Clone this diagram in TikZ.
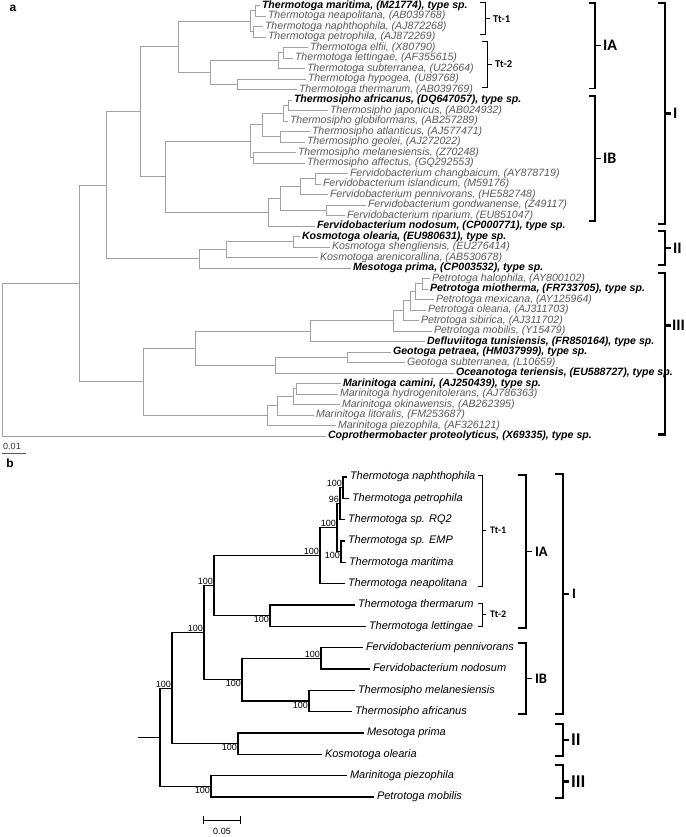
\documentclass[tikz,border=0pt]{standalone}
\usepackage{fontspec}
\setmainfont{Liberation Sans}
\newfontfamily\cladefont{Carlito}
\usetikzlibrary{positioning,calc}
\definecolor{treegray}{HTML}{A0A0A0}
\definecolor{labgray}{HTML}{5A5A5A}
\newcommand{\rowfont}{\fontsize{10.6}{10.6}\selectfont}

\begin{document}
\begin{tikzpicture}[x=1pt,y=-1pt,outer sep=0pt]
\tikzstyle{lfa}=[anchor=west, inner xsep=2pt, inner ysep=0pt,
                 text height=7.6pt, text depth=2.2pt,
                 font=\rowfont\itshape, text=labgray]
\tikzstyle{lfab}=[lfa, font=\rowfont\bfseries\itshape, text=black]
\tikzstyle{lfb}=[anchor=west, inner xsep=3pt, inner ysep=0pt,
                 text height=7.9pt, text depth=2.3pt,
                 font=\fontsize{11}{11}\selectfont\itshape]
\tikzstyle{bra}=[draw=treegray, line width=0.8pt]
\tikzstyle{brb}=[draw=black, line width=1.2pt]
\tikzstyle{bsa}=[anchor=south east, inner sep=1pt, font=\fontsize{9}{9}\selectfont]
\tikzstyle{bsb}=[anchor=north east, inner sep=1pt, font=\fontsize{9}{9}\selectfont]
\tikzstyle{brk1}=[draw=black, line width=1pt]
\tikzstyle{brk2}=[draw=black, line width=1.5pt]
\tikzstyle{brk3}=[draw=black, line width=2.4pt]
\tikzstyle{cla}=[inner sep=0pt, font=\cladefont\bfseries\fontsize{10.5}{10.5}\selectfont]
\tikzstyle{clb}=[inner sep=0pt, font=\cladefont\bfseries\fontsize{16}{16}\selectfont]
\tikzstyle{clc}=[inner sep=0pt, font=\cladefont\bfseries\fontsize{10}{10}\selectfont]
\tikzstyle{cld}=[inner sep=0pt, font=\cladefont\bfseries\fontsize{14.5}{14.5}\selectfont]
\tikzstyle{cle}=[inner sep=0pt, font=\cladefont\bfseries\fontsize{18}{18}\selectfont]

\fill[white] (0,0) rectangle (685,837);
\useasboundingbox (0,0) rectangle (685,837);

\node[font=\bfseries\fontsize{12}{12}\selectfont] (pla) at (13,8) {a};

\begin{scope}[y=-0.992pt]
%% panel a: leaves
\node[lfab] (tmar) at (260,5.5)   {Thermotoga maritima, (M21774), type sp.};
\node[lfa]  (tnea) at (266,16.1)  {Thermotoga neapolitana, (AB039768)};
\node[lfa]  (tnap) at (263,26.7)  {Thermotoga naphthophila, (AJ872268)};
\node[lfa]  (tpet) at (266,37.3)  {Thermotoga petrophila, (AJ872269)};
\node[lfa]  (telf) at (308,47.8)  {Thermotoga elfii, (X80790)};
\node[lfa]  (tlet) at (293,58.4)  {Thermotoga lettingae, (AF355615)};
\node[lfa]  (tsub) at (305,69.0)  {Thermotoga subterranea, (U22664)};
\node[lfa]  (thyp) at (306,79.6)  {Thermotoga hypogea, (U89768)};
\node[lfa]  (tthe) at (297,90.2)  {Thermotoga thermarum, (AB039769)};
\node[lfab] (safr) at (292,100.8) {Thermosipho africanus, (DQ647057), type sp.};
\node[lfa]  (sjap) at (328,111.4) {Thermosipho japonicus, (AB024932)};
\node[lfa]  (sglo) at (288,121.9) {Thermosipho globiformans, (AB257289)};
\node[lfa]  (satl) at (310,132.5) {Thermosipho atlanticus, (AJ577471)};
\node[lfa]  (sgeo) at (305,143.1) {Thermosipho geolei, (AJ272022)};
\node[lfa]  (smel) at (296,153.7) {Thermosipho melanesiensis, (Z70248)};
\node[lfa]  (saff) at (305,164.3) {Thermosipho affectus, (GQ292553)};
\node[lfa]  (fcha) at (348,174.9) {Fervidobacterium changbaicum, (AY878719)};
\node[lfa]  (fisl) at (321,185.4) {Fervidobacterium islandicum, (M59176)};
\node[lfa]  (fpen) at (328,196.0) {Fervidobacterium pennivorans, (HE582748)};
\node[lfa]  (fgon) at (366,206.6) {Fervidobacterium gondwanense, (Z49117)};
\node[lfa]  (frip) at (345,217.2) {Fervidobacterium riparium, (EU851047)};
\node[lfab] (fnod) at (315,227.8) {Fervidobacterium nodosum, (CP000771), type sp.};
\node[lfab] (kole) at (300,238.4) {Kosmotoga olearia, (EU980631), type sp.};
\node[lfa]  (kshe) at (330,249.0) {Kosmotoga shengliensis, (EU276414)};
\node[lfa]  (kare) at (318,259.5) {Kosmotoga arenicorallina, (AB530678)};
\node[lfab] (mpri) at (351,270.1) {Mesotoga prima, (CP003532), type sp.};
\node[lfa]  (phal) at (430,280.7) {Petrotoga halophila, (AY800102)};
\node[lfab] (pmio) at (428,291.3) {Petrotoga miotherma, (FR733705), type sp.};
\node[lfa]  (pmex) at (434,301.9) {Petrotoga mexicana, (AY125964)};
\node[lfa]  (pole) at (426,312.5) {Petrotoga olearia, (AJ311703)};
\node[lfa]  (psib) at (419,323.1) {Petrotoga sibirica, (AJ311702)};
\node[lfa]  (pmob) at (432,333.6) {Petrotoga mobilis, (Y15479)};
\node[lfab] (dtun) at (425,344.2) {Defluviitoga tunisiensis, (FR850164), type sp.};
\node[lfab] (gpet) at (391,354.8) {Geotoga petraea, (HM037999), type sp.};
\node[lfa]  (gsub) at (405,365.4) {Geotoga subterranea, (L10659)};
\node[lfab] (oter) at (454,376.0) {Oceanotoga teriensis, (EU588727), type sp.};
\node[lfab] (mcam) at (341,386.6) {Marinitoga camini, (AJ250439), type sp.};
\node[lfa]  (mhyd) at (338,397.1) {Marinitoga hydrogenitolerans, (AJ786363)};
\node[lfa]  (moki) at (340,407.7) {Marinitoga okinawensis, (AB262395)};
\node[lfa]  (mlit) at (314,418.3) {Marinitoga litoralis, (FM253687)};
\node[lfa]  (mpie) at (336,428.9) {Marinitoga piezophila, (AF326121)};
\node[lfab] (cpro) at (326,439.5) {Coprothermobacter proteolyticus, (X69335), type sp.};

%% panel a: inner nodes
\coordinate (a1)   at (255,10.8);
\coordinate (a2)   at (253,32.0);
\coordinate (tt1)  at (250,21.4);
\coordinate (b1)   at (283,53.1);
\coordinate (b2)   at (278,61.05);
\coordinate (b3)   at (237,84.9);
\coordinate (tt2)  at (210,73.0);
\coordinate (ia)   at (178,47.2);
\coordinate (c1)   at (288,106.1);
\coordinate (c2)   at (283,114.0);
\coordinate (c3)   at (280,137.8);
\coordinate (c4)   at (262,125.9);
\coordinate (c5)   at (253,159.0);
\coordinate (ts)   at (250,142.45);
\coordinate (f1a)  at (315,180.15);
\coordinate (f1)   at (300,188.1);
\coordinate (f2)   at (326,211.9);
\coordinate (fs)   at (280,200.0);
\coordinate (fv)   at (268,213.9);
\coordinate (ib)   at (165,178.2);
\coordinate (ci)   at (140,112.7);
\coordinate (k1)   at (293,243.7);
\coordinate (k2)   at (226,251.6);
\coordinate (km)   at (199,260.85);
\coordinate (n2)   at (106,186.8);
\coordinate (p1)   at (422,286.0);
\coordinate (p2)   at (415,293.95);
\coordinate (p3)   at (410,303.2);
\coordinate (p4)   at (403,313.15);
\coordinate (p5)   at (393,323.4);
\coordinate (p6)   at (310,333.8);
\coordinate (g1)   at (347,360.1);
\coordinate (g2)   at (275,368.05);
\coordinate (pg)   at (195,350.9);
\coordinate (m0)   at (296,391.85);
\coordinate (m1)   at (293,399.8);
\coordinate (m2)   at (277,409.05);
\coordinate (m3)   at (267,418.95);
\coordinate (n3)   at (143,384.9);
\coordinate (ing)  at (79,285.85);
\coordinate (root) at (2,362.7);

\draw[bra] (a1) |- (tmar.west) (a1) |- (tnea.west);
\draw[bra] (a2) |- (tnap.west) (a2) |- (tpet.west);
\draw[bra] (tt1) |- (a1) (tt1) |- (a2);
\draw[bra] (b1) |- (telf.west) (b1) |- (tlet.west);
\draw[bra] (b2) |- (b1) (b2) |- (tsub.west);
\draw[bra] (b3) |- (thyp.west) (b3) |- (tthe.west);
\draw[bra] (tt2) |- (b2) (tt2) |- (b3);
\draw[bra] (ia) |- (tt1) (ia) |- (tt2);
\draw[bra] (c1) |- (safr.west) (c1) |- (sjap.west);
\draw[bra] (c2) |- (c1) (c2) |- (sglo.west);
\draw[bra] (c3) |- (satl.west) (c3) |- (sgeo.west);
\draw[bra] (c4) |- (c2) (c4) |- (c3);
\draw[bra] (c5) |- (smel.west) (c5) |- (saff.west);
\draw[bra] (ts) |- (c4) (ts) |- (c5);
\draw[bra] (f1a) |- (fcha.west) (f1a) |- (fisl.west);
\draw[bra] (f1) |- (f1a) (f1) |- (fpen.west);
\draw[bra] (f2) |- (fgon.west) (f2) |- (frip.west);
\draw[bra] (fs) |- (f1) (fs) |- (f2);
\draw[bra] (fv) |- (fs) (fv) |- (fnod.west);
\draw[bra] (ib) |- (ts) (ib) |- (fv);
\draw[bra] (ci) |- (ia) (ci) |- (ib);
\draw[bra] (k1) |- (kole.west) (k1) |- (kshe.west);
\draw[bra] (k2) |- (k1) (k2) |- (kare.west);
\draw[bra] (km) |- (k2) (km) |- (mpri.west);
\draw[bra] (n2) |- (ci) (n2) |- (km);
\draw[bra] (p1) |- (phal.west) (p1) |- (pmio.west);
\draw[bra] (p2) |- (p1) (p2) |- (pmex.west);
\draw[bra] (p3) |- (p2) (p3) |- (pole.west);
\draw[bra] (p4) |- (p3) (p4) |- (psib.west);
\draw[bra] (p5) |- (p4) (p5) |- (pmob.west);
\draw[bra] (p6) |- (p5) (p6) |- (dtun.west);
\draw[bra] (g1) |- (gpet.west) (g1) |- (gsub.west);
\draw[bra] (g2) |- (g1) (g2) |- (oter.west);
\draw[bra] (pg) |- (p6) (pg) |- (g2);
\draw[bra] (m0) |- (mcam.west) (m0) |- (mhyd.west);
\draw[bra] (m1) |- (m0) (m1) |- (moki.west);
\draw[bra] (m2) |- (m1) (m2) |- (mlit.west);
\draw[bra] (m3) |- (m2) (m3) |- (mpie.west);
\draw[bra] (n3) |- (pg) (n3) |- (m3);
\draw[bra] (ing) |- (n2) (ing) |- (n3);
\draw[bra] (root) |- (ing) (root) |- (cpro.west);

%% panel a: clades
\coordinate (att1t) at (485,3);   \coordinate (att1b) at (485,35);
\draw[brk1] ([xshift=-5pt]att1t) -- (att1t) -- (att1b) -- ([xshift=-5pt]att1b);
\draw[brk1] ($(att1t)!.5!(att1b)$) -- ++(5,0) coordinate (att1m);
\node[cla] (latt1) [right=3pt of att1m] {Tt-1};

\coordinate (att2t) at (487,42);  \coordinate (att2b) at (487,88);
\draw[brk1] ([xshift=-5pt]att2t) -- (att2t) -- (att2b) -- ([xshift=-5pt]att2b);
\draw[brk1] ($(att2t)!.5!(att2b)$) -- ++(5,0) coordinate (att2m);
\node[cla] (latt2) [right=3pt of att2m] {Tt-2};

\coordinate (aiat) at (595,3);    \coordinate (aiab) at (595,89);
\draw[brk2] ([xshift=-6pt]aiat) -- (aiat) -- (aiab) -- ([xshift=-6pt]aiab);
\draw[brk2] ($(aiat)!.5!(aiab)$) -- ++(6,0) coordinate (aiam);
\node[clb] (laia) [right=2pt of aiam] {IA};

\coordinate (aibt) at (595,97);   \coordinate (aibb) at (595,223);
\draw[brk2] ([xshift=-6pt]aibt) -- (aibt) -- (aibb) -- ([xshift=-6pt]aibb);
\draw[brk2] ($(aibt)!.5!(aibb)$) -- ++(6,0) coordinate (aibm);
\node[clb] (laib) [right=2pt of aibm] {IB};

\coordinate (ait) at (665,3);     \coordinate (aib) at (665,226);
\draw[brk3] ([xshift=-7pt]ait) -- (ait) -- (aib) -- ([xshift=-7pt]aib);
\draw[brk3] ($(ait)!.5!(aib)$) -- ++(6,0) coordinate (aim);
\node[clb] (lai) [right=2pt of aim] {I};

\coordinate (aiit) at (665,233);  \coordinate (aiib) at (665,267);
\draw[brk3] ([xshift=-7pt]aiit) -- (aiit) -- (aiib) -- ([xshift=-7pt]aiib);
\draw[brk3] ($(aiit)!.5!(aiib)$) -- ++(6,0) coordinate (aiim);
\node[clb] (laii) [right=2pt of aiim] {II};

\coordinate (aiiit) at (665,275); \coordinate (aiiib) at (665,438);
\coordinate (aiiic) at (665,328);
\draw[brk3] ([xshift=-7pt]aiiit) -- (aiiit) -- (aiiib) -- ([xshift=-7pt]aiiib);
\draw[brk3] (aiiic) -- ++(6,0) coordinate (aiiim);
\node[clb] (laiii) [right=1pt of aiiim] {III};
\end{scope}

%% panel a: scale
\coordinate (sal) at (2,453);
\coordinate (sar) at (26,453);
\draw[draw=black!65, line width=0.8pt] (sal) -- (sar);
\node[font=\fontsize{9}{9}\selectfont, text=black!80] (sat) at (12,446.5) {0.01};

%% panel b
\node[font=\bfseries\fontsize{12}{12}\selectfont] (plb) at (10,463) {b};

\node[lfb] (bnap) at (347,477.0) {Thermotoga naphthophila};
\node[lfb] (bpet) at (349,498.3) {Thermotoga petrophila};
\node[lfb] (brq2) at (345,519.7) {Thermotoga sp. RQ2};
\node[lfb] (bemp) at (345,541.0) {Thermotoga sp. EMP};
\node[lfb] (bmar) at (346,562.3) {Thermotoga maritima};
\node[lfb] (bnea) at (345,583.7) {Thermotoga neapolitana};
\node[lfb] (bthe) at (355,605.0) {Thermotoga thermarum};
\node[lfb] (blet) at (366,626.3) {Thermotoga lettingae};
\node[lfb] (bpen) at (363,647.6) {Fervidobacterium pennivorans};
\node[lfb] (bnod) at (370,669.0) {Fervidobacterium nodosum};
\node[lfb] (bmel) at (355,690.3) {Thermosipho melanesiensis};
\node[lfb] (bafr) at (352,711.6) {Thermosipho africanus};
\node[lfb] (bmes) at (364,733.0) {Mesotoga prima};
\node[lfb] (bkos) at (322,754.3) {Kosmotoga olearia};
\node[lfb] (bpie) at (347,775.6) {Marinitoga piezophila};
\node[lfb] (bmob) at (374,797.0) {Petrotoga mobilis};

\coordinate (s1a)   at (343,487.65);
\coordinate (s1)    at (340,503.7);
\coordinate (s2)    at (341,551.65);
\coordinate (core)  at (337,527.7);
\coordinate (tt1b)  at (320,555.7);
\coordinate (tt2b)  at (270,615.65);
\coordinate (iab)   at (214,585.7);
\coordinate (fvb)   at (321,658.3);
\coordinate (tsb)   at (309,700.95);
\coordinate (ibb)   at (242,679.6);
\coordinate (cib)   at (204,632.65);
\coordinate (kmb)   at (238,743.65);
\coordinate (nab)   at (172,688.15);
\coordinate (mpb)   at (211,786.3);
\coordinate (rootb) at (160,737.2);
\coordinate (stub)  at (138,737.2);

\draw[brb] (s1a) |- (bnap.west) (s1a) |- (bpet.west);
\draw[brb] (s1) |- (s1a) (s1) |- (brq2.west);
\draw[brb] (s2) |- (bemp.west) (s2) |- (bmar.west);
\draw[brb] (core) |- (s1) (core) |- (s2);
\draw[brb] (tt1b) |- (core) (tt1b) |- (bnea.west);
\draw[brb] (tt2b) |- (bthe.west) (tt2b) |- (blet.west);
\draw[brb] (iab) |- (tt1b) (iab) |- (tt2b);
\draw[brb] (fvb) |- (bpen.west) (fvb) |- (bnod.west);
\draw[brb] (tsb) |- (bmel.west) (tsb) |- (bafr.west);
\draw[brb] (ibb) |- (fvb) (ibb) |- (tsb);
\draw[brb] (cib) |- (iab) (cib) |- (ibb);
\draw[brb] (kmb) |- (bmes.west) (kmb) |- (bkos.west);
\draw[brb] (nab) |- (cib) (nab) |- (kmb);
\draw[brb] (mpb) |- (bpie.west) (mpb) |- (bmob.west);
\draw[brb] (rootb) |- (nab) (rootb) |- (mpb);
\draw[brb] (stub) -- (rootb);

\node[bsa] (bv1)  at (s1a)  {100};
\node[bsa] (bv2)  at (s1)   {96};
\node[bsa] (bv3)  at (core) {100};
\node[bsb] (bv4)  at (s2)   {100};
\node[bsa] (bv5)  at (tt1b) {100};
\node[bsb] (bv6)  at (tt2b) {100};
\node[bsa] (bv7)  at (iab)  {100};
\node[bsa] (bv8)  at (fvb)  {100};
\node[bsb] (bv9)  at (tsb)  {100};
\node[bsb] (bv10) at (ibb)  {100};
\node[bsa] (bv11) at (cib)  {100};
\node[bsb] (bv12) at (kmb)  {100};
\node[bsa] (bv13) at (nab)  {100};
\node[bsb] (bv14) at (mpb)  {100};

%% panel b: scale
\coordinate (sbl) at (203,820);
\coordinate (sbr) at (241,820);
\draw[|-|, line width=1pt] (sbl) -- (sbr);
\node[font=\fontsize{9}{9}\selectfont] (sbt) at (222,831) {0.05};

%% panel b: clades
\coordinate (btt1t) at (482,475); \coordinate (btt1b) at (482,586);
\draw[brk1] ([xshift=-4pt]btt1t) -- (btt1t) -- (btt1b) -- ([xshift=-4pt]btt1b);
\draw[brk1] ($(btt1t)!.5!(btt1b)$) -- ++(4,0) coordinate (btt1m);
\node[clc] (lbtt1) [right=4pt of btt1m] {Tt-1};

\coordinate (btt2t) at (482,603); \coordinate (btt2b) at (482,626);
\draw[brk1] ([xshift=-4pt]btt2t) -- (btt2t) -- (btt2b) -- ([xshift=-4pt]btt2b);
\draw[brk1] ($(btt2t)!.5!(btt2b)$) -- ++(4,0) coordinate (btt2m);
\node[clc] (lbtt2) [right=4pt of btt2m] {Tt-2};

\coordinate (biat) at (526,475);  \coordinate (biab) at (526,628);
\draw[brk2] ([xshift=-8pt]biat) -- (biat) -- (biab) -- ([xshift=-8pt]biab);
\draw[brk2] ($(biat)!.5!(biab)$) -- ++(6,0) coordinate (biam);
\node[cld] (lbia) [right=3pt of biam] {IA};

\coordinate (bibt) at (526,643);  \coordinate (bibb) at (526,714);
\draw[brk2] ([xshift=-8pt]bibt) -- (bibt) -- (bibb) -- ([xshift=-8pt]bibb);
\draw[brk2] ($(bibt)!.5!(bibb)$) -- ++(6,0) coordinate (bibm);
\node[cld] (lbib) [right=3pt of bibm] {IB};

\coordinate (bit) at (563,474);   \coordinate (bib) at (563,714);
\draw[brk3] ([xshift=-8pt]bit) -- (bit) -- (bib) -- ([xshift=-8pt]bib);
\draw[brk3] ($(bit)!.5!(bib)$) -- ++(6,0) coordinate (bim);
\node[cld] (lbi) [right=3pt of bim] {I};

\coordinate (biit) at (563,724);  \coordinate (biib) at (563,756);
\draw[brk3] ([xshift=-8pt]biit) -- (biit) -- (biib) -- ([xshift=-8pt]biib);
\draw[brk3] ($(biit)!.5!(biib)$) -- ++(6,0) coordinate (biim);
\node[cle] (lbii) [right=2pt of biim] {II};

\coordinate (biiit) at (563,765); \coordinate (biiib) at (563,798);
\draw[brk3] ([xshift=-8pt]biiit) -- (biiit) -- (biiib) -- ([xshift=-8pt]biiib);
\draw[brk3] ($(biiit)!.5!(biiib)$) -- ++(6,0) coordinate (biiim);
\node[cle] (lbiii) [right=2pt of biiim] {III};

\end{tikzpicture}
\end{document}
